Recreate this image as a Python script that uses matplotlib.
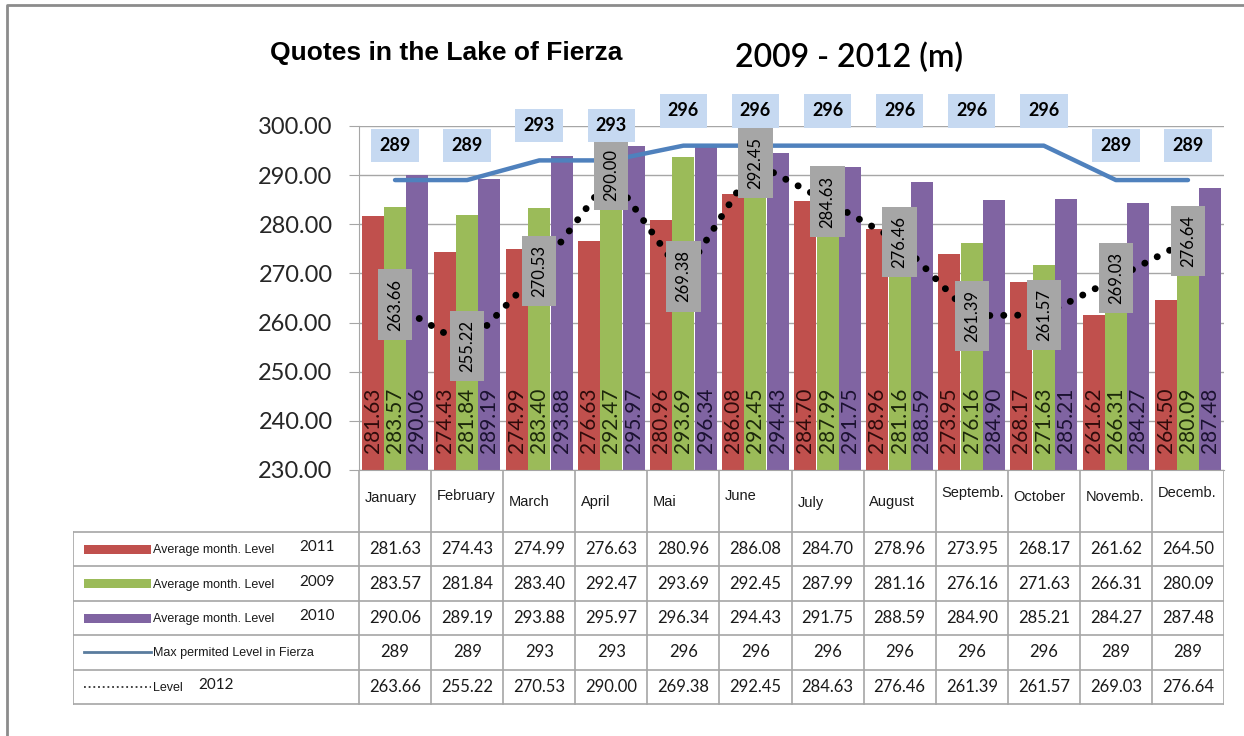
import matplotlib
matplotlib.use('Agg')
import matplotlib.pyplot as plt
from matplotlib.lines import Line2D
from matplotlib.patches import Rectangle

# data
months = ['January', 'February', 'March', 'April', 'Mai', 'June', 'July',
          'August', 'Septemb.', 'October', 'Novemb.', 'Decemb.']
level_2011 = [281.63, 274.43, 274.99, 276.63, 280.96, 286.08, 284.70,
              278.96, 273.95, 268.17, 261.62, 264.50]
level_2009 = [283.57, 281.84, 283.40, 292.47, 293.69, 292.45, 287.99,
              281.16, 276.16, 271.63, 266.31, 280.09]
level_2010 = [290.06, 289.19, 293.88, 295.97, 296.34, 294.43, 291.75,
              288.59, 284.90, 285.21, 284.27, 287.48]
max_level = [289, 289, 293, 293, 296, 296, 296, 296, 296, 296, 289, 289]
level_2012 = [263.66, 255.22, 270.53, 290.00, 269.38, 292.45, 284.63,
              276.46, 261.39, 261.57, 269.03, 276.64]
yticks = [230, 240, 250, 260, 270, 280, 290, 300]

RED, GREEN, PURPLE, BLUE = '#C0504D', '#9BBB59', '#8064A2', '#4F81BD'
GRID = '#A6A6A6'
ARIAL = ['Liberation Sans', 'DejaVu Sans']
CAL = ['Lato', 'DejaVu Sans']

W, H = 1244, 736
fig = plt.figure(figsize=(W / 100, H / 100), dpi=100)


def fx(px):
    return px / W


def fy(py):
    return 1 - py / H


# outer frame (top and left edges visible)
fig.add_artist(Line2D([fx(7), fx(7), 1], [0, fy(5), fy(5)], color='#8C8C8C', lw=2))

# main chart
left_px, right_px, top_px, bot_px = 359, 1224, 126, 470
ax = fig.add_axes([fx(left_px), fy(bot_px), fx(right_px) - fx(left_px), (bot_px - top_px) / H])
x = list(range(len(months)))
bw = 0.305
ax.bar([i - 0.31 for i in x], [v - 230 for v in level_2011], bw, bottom=230, color=RED, zorder=2)
ax.bar(x, [v - 230 for v in level_2009], bw, bottom=230, color=GREEN, zorder=2)
ax.bar([i + 0.31 for i in x], [v - 230 for v in level_2010], bw, bottom=230, color=PURPLE, zorder=2)

for vals, off, tc in [(level_2011, -0.31, '#2e0b0b'), (level_2009, 0, '#1c270b'),
                      (level_2010, 0.31, '#1b1230')]:
    for i, v in enumerate(vals):
        ax.annotate(f'{v:.2f}', (i + off, 230), xytext=(0, 12), textcoords='offset points',
                    rotation=90, ha='center', va='bottom', fontsize=15, family=CAL,
                    color=tc, zorder=3)

ax.plot(x, max_level, color=BLUE, lw=3.2, solid_capstyle='round', zorder=3)
ax.plot(x, level_2012, color='black', lw=5, linestyle=(0, (0.01, 2.0)),
        dash_capstyle='round', zorder=4)

for i, v in enumerate(max_level):
    ax.annotate(f'{v}', (i, v), xytext=(0, 25), textcoords='offset points',
                ha='center', va='center', fontsize=13, fontweight='bold', family=CAL,
                color='black', annotation_clip=False, zorder=6,
                bbox=dict(boxstyle='square,pad=0.45', fc='#C6D9F1', ec='none'))

for i, v in enumerate(level_2012):
    ax.text(i, v, f'{v:.2f}', rotation=90, ha='center', va='center', fontsize=12,
            family=CAL, color='black', zorder=5,
            bbox=dict(boxstyle='square,pad=0.55', fc='#A6A6A6', ec='none'))

ax.set_xlim(-0.5, len(months) - 0.5)
ax.set_ylim(230, 300)
ax.set_yticks(yticks)
ax.set_yticklabels([f'{t:.2f}' for t in yticks], fontsize=17, family=CAL, color='#262626')
ax.set_xticks([])
ax.yaxis.grid(True, color=GRID, lw=1)
ax.set_axisbelow(True)
ax.tick_params(axis='y', length=7, color=GRID, pad=12)
for s in ['top', 'right']:
    ax.spines[s].set_visible(False)
for s in ['left', 'bottom']:
    ax.spines[s].set_color(GRID)

# titles
fig.text(fx(270), fy(53), 'Quotes in the Lake of Fierza', fontsize=19, fontweight='bold',
         family=ARIAL, va='center', ha='left')
fig.text(fx(735), fy(58), '2009 - 2012 (m)', fontsize=23, family=CAL,
         fontweight='semibold', va='center', ha='left')

# data table below the chart
tab_left, tab_bot = 73, 705
unit = (right_px - left_px) / len(months)
label_w = (left_px - tab_left) / unit
tax = fig.add_axes([fx(tab_left), fy(tab_bot), fx(right_px) - fx(tab_left), (tab_bot - bot_px) / H])
x0 = -0.5 - label_w
tax.set_xlim(x0, len(months) - 0.5)
tax.set_ylim(tab_bot - bot_px, 0)
tax.axis('off')


def px2x(px):
    return x0 + (px - tab_left) / unit


head_h, row_h = 62, 34.4
line_kw = dict(color=GRID, lw=1.2)
n_rows = 5
table_bottom = head_h + n_rows * row_h
for b in range(len(months) + 1):
    tax.plot([b - 0.5, b - 0.5], [0, table_bottom], **line_kw)
tax.plot([x0, x0], [head_h, table_bottom], **line_kw)
for r in range(n_rows + 1):
    y = head_h + r * row_h
    tax.plot([x0, len(months) - 0.5], [y, y], **line_kw)

month_dy = [28, 26, 32, 32, 32, 26, 33, 32, 23, 27, 27, 23]
for i, m in enumerate(months):
    tax.text(i - 0.5 + 0.08, month_dy[i], m, fontsize=10.5, family=ARIAL,
             ha='left', va='center', color='#1a1a1a')

rows = [
    ('Average month. Level', '2011', [f'{v:.2f}' for v in level_2011], RED),
    ('Average month. Level', '2009', [f'{v:.2f}' for v in level_2009], GREEN),
    ('Average month. Level', '2010', [f'{v:.2f}' for v in level_2010], PURPLE),
    ('Max permited Level in Fierza', '', [f'{v}' for v in max_level], 'line'),
    ('Level', '2012', [f'{v:.2f}' for v in level_2012], 'dots'),
]
for r, (name, year, vals, key) in enumerate(rows):
    yc = head_h + (r + 0.5) * row_h
    if key == 'line':
        tax.plot([px2x(84), px2x(151)], [yc, yc], color='#5A7C9E', lw=2)
    elif key == 'dots':
        tax.plot([px2x(84), px2x(151)], [yc, yc], color='#333333', lw=1.3,
                 linestyle=(0, (1, 1.6)))
    else:
        tax.add_patch(Rectangle((px2x(84), yc - 4.5), px2x(151) - px2x(84), 9,
                                fc=key, ec='none'))
    tax.text(px2x(153), yc + 1, name, fontsize=9, family=ARIAL, ha='left',
             va='center', color='#1a1a1a')
    if year:
        yx = px2x(299) if key != 'dots' else px2x(198)
        tax.text(yx, yc - 2, year, fontsize=11, family=CAL, ha='left',
                 va='center', color='#1a1a1a')
    for i, s in enumerate(vals):
        tax.text(i, yc, s, fontsize=12, family=CAL, ha='center', va='center',
                 color='#1a1a1a')

fig.savefig('out.png', dpi=100)
